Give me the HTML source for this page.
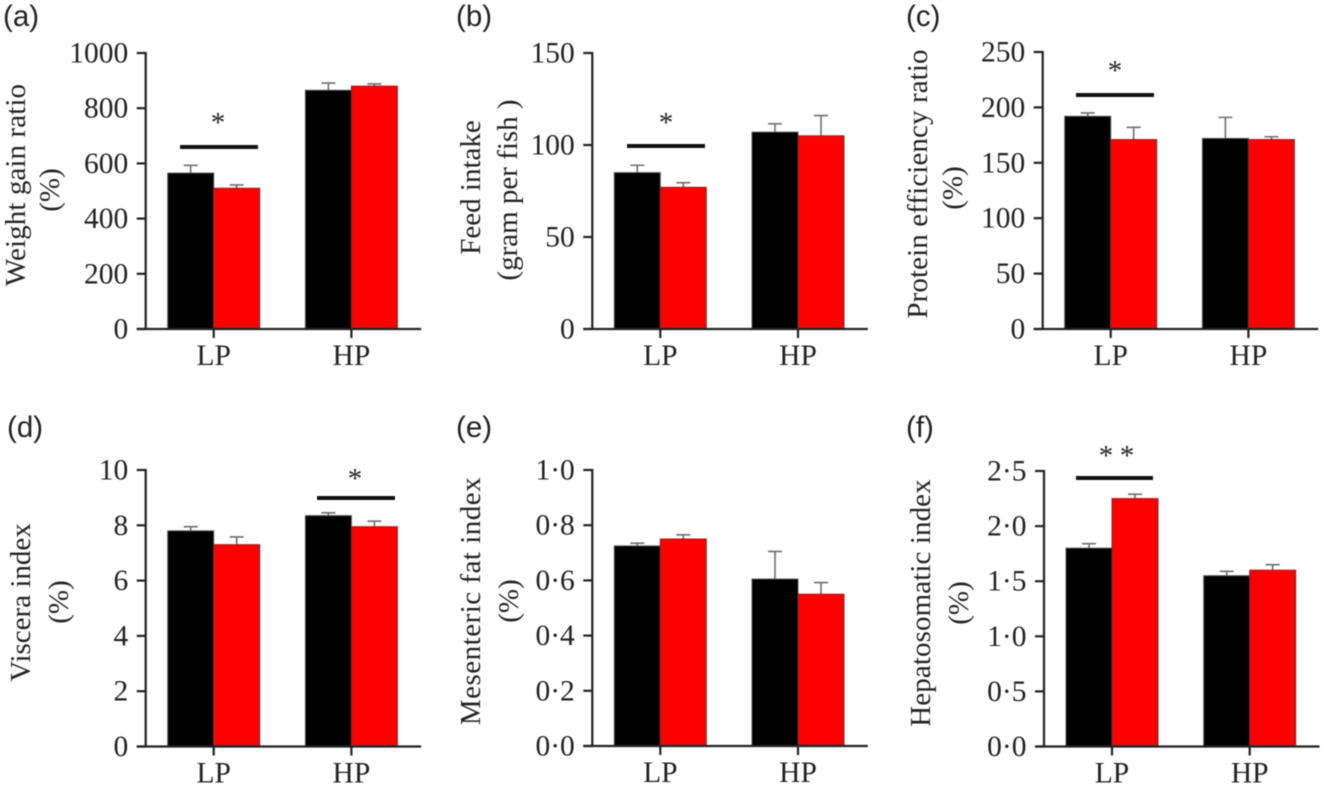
<!DOCTYPE html>
<html lang="en">
<head>
<meta charset="utf-8">
<title>Growth and body index bar charts</title>
<style>
html,body{margin:0;padding:0;background:#fff;width:1329px;height:789px;overflow:hidden}
svg{display:block;filter:blur(.55px)}
text{font-family:"Liberation Serif",serif;fill:#222}
.panel-label{font-family:"Liberation Sans",sans-serif;font-size:29.5px}
</style>
</head>
<body>
<svg id="chart" xmlns="http://www.w3.org/2000/svg" width="1329" height="789" viewBox="0 0 1329 789"></svg>
<script>
// Shared category labels
const categories = ['LP', 'HP'];

// Panel (a)
const aTicks = ['0', '200', '400', '600', '800', '1000'];
const aTickValues = [0, 200, 400, 600, 800, 1000];
const aBlack = [565, 865];
const aRed = [510, 880];
const aBlackErr = [28, 26];
const aRedErr = [12, 8];

// Panel (b)
const bTicks = ['0', '50', '100', '150'];
const bTickValues = [0, 50, 100, 150];
const bBlack = [85, 107];
const bRed = [77, 105];
const bBlackErr = [4, 4.5];
const bRedErr = [2.5, 11];

// Panel (c)
const cTicks = ['0', '50', '100', '150', '200', '250'];
const cTickValues = [0, 50, 100, 150, 200, 250];
const cBlack = [192, 172];
const cRed = [171, 171];
const cBlackErr = [3, 19];
const cRedErr = [11, 2.5];

// Panel (d)
const dTicks = ['0', '2', '4', '6', '8', '10'];
const dTickValues = [0, 2, 4, 6, 8, 10];
const dBlack = [7.8, 8.35];
const dRed = [7.3, 7.95];
const dBlackErr = [0.15, 0.1];
const dRedErr = [0.28, 0.2];

// Panel (e)
const eTicks = ['0·0', '0·2', '0·4', '0·6', '0·8', '1·0'];
const eTickValues = [0, 0.2, 0.4, 0.6, 0.8, 1];
const eBlack = [0.725, 0.605];
const eRed = [0.75, 0.55];
const eBlackErr = [0.01, 0.1];
const eRedErr = [0.015, 0.042];

// Panel (f)
const fTicks = ['0·0', '0·5', '1·0', '1·5', '2·0', '2·5'];
const fTickValues = [0, 0.5, 1, 1.5, 2, 2.5];
const fBlack = [1.8, 1.55];
const fRed = [2.25, 1.6];
const fBlackErr = [0.04, 0.04];
const fRedErr = [0.04, 0.05];

const panels = [
  {id:'a', ax:145.7, top:53, bottom:329, labelX:3, labelY:26, ticks:aTicks, tv:aTickValues, black:aBlack, red:aRed, be:aBlackErr, re:aRedErr,
   titles:[['Weight gain ratio',25,185,0.1],['(%)',59,190,0]], sig:{x1:180,x2:258,y:147,stars:[[218,119]]}},
  {id:'b', ax:592.3, top:53, bottom:329, labelX:456, labelY:26, ticks:bTicks, tv:bTickValues, black:bBlack, red:bRed, be:bBlackErr, re:bRedErr,
   titles:[['Feed intake',480,187.5,0],['(gram per fish )',517,190,0]], sig:{x1:627,x2:705,y:146,stars:[[666,119]]}},
  {id:'c', ax:1042.7, top:52, bottom:329, labelX:906, labelY:26, ticks:cTicks, tv:cTickValues, black:cBlack, red:cRed, be:cBlackErr, re:cRedErr,
   titles:[['Protein efficiency ratio',927,184,0.1],['(%)',962,188,0]], sig:{x1:1076,x2:1154,y:95,stars:[[1115,67]]}},
  {id:'d', ax:145.7, top:470, bottom:746.5, labelX:7, labelY:437, ticks:dTicks, tv:dTickValues, black:dBlack, red:dRed, be:dBlackErr, re:dRedErr,
   titles:[['Viscera index',30,602.5,0],['(%)',68,602,0]], sig:{x1:317,x2:395,y:498,stars:[[355,475]]}},
  {id:'e', ax:592.3, top:470, bottom:746, labelX:456, labelY:437, ticks:eTicks, tv:eTickValues, black:eBlack, red:eRed, be:eBlackErr, re:eRedErr,
   titles:[['Mesenteric fat index',480,601,0.5],['(%)',518,601,0]], sig:null},
  {id:'f', ax:1044, top:471, bottom:746.5, labelX:906, labelY:437, ticks:fTicks, tv:fTickValues, black:fBlack, red:fRed, be:fBlackErr, re:fRedErr,
   titles:[['Hepatosomatic index',930,603,0.1],['(%)',968,603,0]], sig:{x1:1076,x2:1153,y:478,stars:[[1106,452],[1127,452]]}}
];

const NS = 'http://www.w3.org/2000/svg';
const root = document.getElementById('chart');

function make(tag, attrs, parent, txt) {
  const el = document.createElementNS(NS, tag);
  for (const k in attrs) el.setAttribute(k, attrs[k]);
  if (txt !== undefined) el.textContent = txt;
  parent.appendChild(el);
  return el;
}

panels.forEach(function (p) {
  const g = make('g', {}, root);
  
  

  const maxV = p.tv[p.tv.length - 1];
  const yScale = function (v) { return p.bottom - (v / maxV) * (p.bottom - p.top); };
  const groupX = function (i) { return p.ax + 68 + i * 137.7; };
  const barW = 46;

  const label = make('text', {x:p.labelX, y:p.labelY, class:'panel-label'}, g, '(' + p.id + ')');
  
  

  p.titles.forEach(function (t, idx) {
    const title = make('text', {x:0, y:0, 'font-size':29, 'text-anchor':'middle', 'letter-spacing':t[3],
      transform:'translate(' + t[1] + ',' + t[2] + ') rotate(-90)'}, g, t[0]);
    
    
  });

  // error bars, drawn behind the bars
  categories.forEach(function (c, i) {
    [[p.black, p.be, -barW / 2, 'black'], [p.red, p.re, barW / 2, 'red']].forEach(function (s) {
      const cx = groupX(i) + s[2];
      const yTop = yScale(s[0][i] + s[1][i]);
      const yBase = yScale(s[0][i]);
      const err = make('path', {d:'M' + cx + ' ' + yBase + 'V' + yTop + 'M' + (cx - 7) + ' ' + yTop + 'H' + (cx + 7),
        stroke:'#6f6f6f', 'stroke-width':1.6, fill:'none'}, g);
      
      
    });
  });

  // bars
  categories.forEach(function (c, i) {
    const yB = yScale(p.black[i]);
    const black = make('rect', {x:groupX(i) - barW, y:yB, width:barW, height:p.bottom - yB,
      fill:'#000', stroke:'#555', 'stroke-width':1}, g);
    
    
    const yR = yScale(p.red[i]);
    const red = make('rect', {x:groupX(i), y:yR, width:barW, height:p.bottom - yR,
      fill:'#ff0000', stroke:'#6a3030', 'stroke-width':1}, g);
    
    
  });

  // axes
  const yAxis = make('line', {x1:p.ax, x2:p.ax, y1:p.top - 1, y2:p.bottom + 1, stroke:'#222', 'stroke-width':2.2}, g);
  
  
  const xAxis = make('line', {x1:p.ax - 9, x2:p.ax + 275.5, y1:p.bottom, y2:p.bottom, stroke:'#222', 'stroke-width':2.2}, g);
  
  

  p.tv.forEach(function (v, i) {
    const y = yScale(v);
    const tick = make('line', {x1:p.ax - 9, x2:p.ax, y1:y, y2:y, stroke:'#222', 'stroke-width':2.2}, g);
    
    
    const tl = make('text', {x:p.ax - 17.5, y:y + 9.5, 'font-size':29.5, 'text-anchor':'end'}, g, p.ticks[i]);
    
    
  });

  categories.forEach(function (c, i) {
    const x = groupX(i);
    const tick = make('line', {x1:x, x2:x, y1:p.bottom, y2:p.bottom + 9, stroke:'#222', 'stroke-width':2.2}, g);
    
    
    const cl = make('text', {x:x, y:p.bottom + 36, 'font-size':29.5, 'text-anchor':'middle'}, g, c);
    
    
  });

  if (p.sig) {
    const bar = make('line', {x1:p.sig.x1, x2:p.sig.x2, y1:p.sig.y, y2:p.sig.y, stroke:'#111', 'stroke-width':4}, g);
    
    
    p.sig.stars.forEach(function (s) {
      const star = make('text', {x:s[0], y:s[1] + 13, 'font-size':29, 'text-anchor':'middle'}, g, '*');
      
      
    });
  }
});
</script>
</body>
</html>
